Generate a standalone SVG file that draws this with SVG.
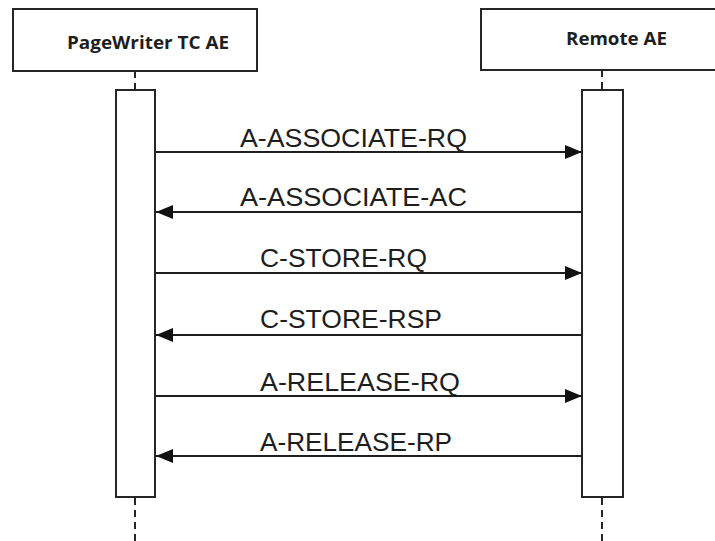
<svg xmlns="http://www.w3.org/2000/svg" width="715" height="541" viewBox="0 0 715 541">
  <style>
    .box { fill: #ffffff; stroke: #262626; stroke-width: 2; }
    .life { stroke: #262626; stroke-width: 2; stroke-dasharray: 7 5; fill: none; }
    .msg { stroke: #1e1e1e; stroke-width: 2; fill: none; }
    .title { font-family: "Open Sans", "Liberation Sans", sans-serif; font-weight: 700; font-size: 18px; fill: #1e1e1e; }
    .label { font-family: "Liberation Sans", Arial, sans-serif; font-size: 26px; fill: #1e1e1e; }
  </style>
  <defs>
    <marker id="head" markerUnits="userSpaceOnUse" markerWidth="18" markerHeight="14" refX="17" refY="7" orient="auto">
      <path d="M0,0 L17,7 L0,14 Z" fill="#111111"/>
    </marker>
  </defs>

  <rect width="715" height="541" fill="#ffffff"/>

  <!-- participant: PageWriter TC AE -->
  <g id="pagewriter">
    <rect class="box" x="13" y="9" width="244" height="62"/>
    <text class="title" x="67" y="49" textLength="162" lengthAdjust="spacingAndGlyphs">PageWriter TC AE</text>
    <line class="life" x1="135" y1="71" x2="135" y2="90"/>
    <rect class="box" x="116" y="90" width="39" height="407"/>
    <line class="life" x1="135" y1="498" x2="135" y2="541"/>
  </g>

  <!-- participant: Remote AE -->
  <g id="remote">
    <rect class="box" x="481" y="9" width="240" height="61"/>
    <text class="title" x="566" y="45" textLength="101" lengthAdjust="spacingAndGlyphs">Remote AE</text>
    <line class="life" x1="602" y1="70" x2="602" y2="90"/>
    <rect class="box" x="582" y="90" width="41" height="407"/>
    <line class="life" x1="602" y1="498" x2="602" y2="541"/>
  </g>

  <!-- messages -->
  <g id="messages">
    <line class="msg" x1="156" y1="152" x2="582" y2="152" marker-end="url(#head)"/>
    <text class="label" x="240" y="147" textLength="227" lengthAdjust="spacingAndGlyphs">A-ASSOCIATE-RQ</text>

    <line class="msg" x1="582" y1="212" x2="156" y2="212" marker-end="url(#head)"/>
    <text class="label" x="240" y="206" textLength="227" lengthAdjust="spacingAndGlyphs">A-ASSOCIATE-AC</text>

    <line class="msg" x1="156" y1="273" x2="582" y2="273" marker-end="url(#head)"/>
    <text class="label" x="260" y="267" textLength="167" lengthAdjust="spacingAndGlyphs">C-STORE-RQ</text>

    <line class="msg" x1="582" y1="335" x2="156" y2="335" marker-end="url(#head)"/>
    <text class="label" x="260" y="328" textLength="182" lengthAdjust="spacingAndGlyphs">C-STORE-RSP</text>

    <line class="msg" x1="156" y1="396" x2="582" y2="396" marker-end="url(#head)"/>
    <text class="label" x="260" y="391" textLength="200" lengthAdjust="spacingAndGlyphs">A-RELEASE-RQ</text>

    <line class="msg" x1="582" y1="456" x2="156" y2="456" marker-end="url(#head)"/>
    <text class="label" x="260" y="451" textLength="192" lengthAdjust="spacingAndGlyphs">A-RELEASE-RP</text>
  </g>
</svg>
